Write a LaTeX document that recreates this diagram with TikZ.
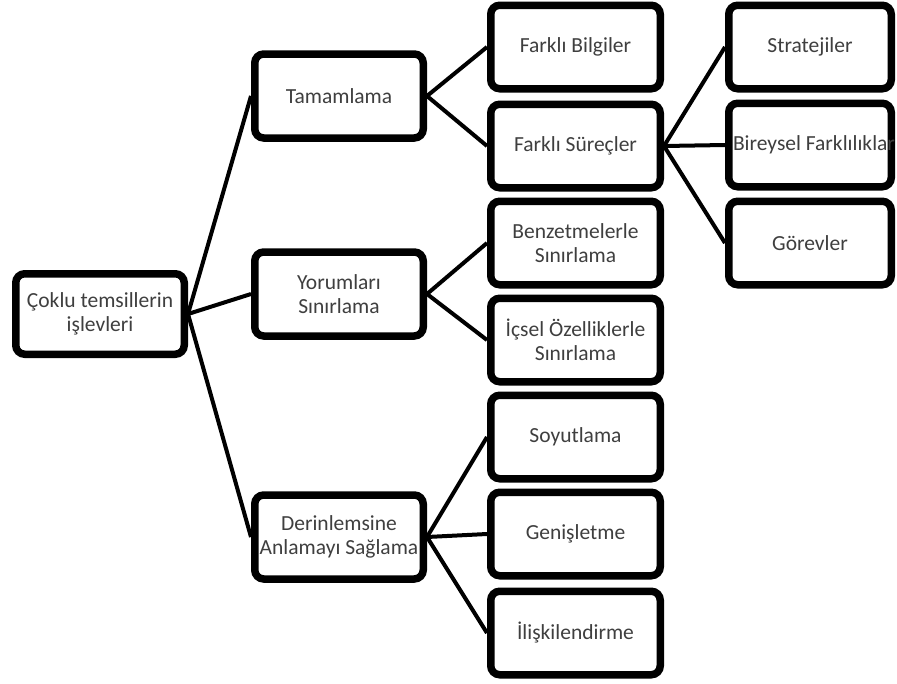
\documentclass[tikz,border=0pt]{standalone}
\usepackage{fontspec}
\setmainfont{Carlito}
\usetikzlibrary{shadows}
\definecolor{boxtext}{HTML}{3F3F3F}
\begin{document}
\begin{tikzpicture} [x=1pt, y=-1pt,
    line width=4pt,
    box/.style={draw, rounded corners=9pt, line width=7.5pt, fill=white,
      drop shadow={shadow xshift=1pt, shadow yshift=-2.5pt, opacity=0.22},
      align=center, text=boxtext, inner sep=0pt,
      font=\fontsize{21.5}{24}\selectfont},
    mid/.style={box, minimum width=168.5pt, minimum height=84pt},
    leaf/.style={box, minimum width=169.5pt, minimum height=83.5pt},
    far/.style={box, minimum width=162.5pt, minimum height=83.5pt}]
  \useasboundingbox (0,0) rectangle (897,683);

  \node[box, minimum width=168.5pt, minimum height=80.5pt] (root) at (100,314) {Çoklu temsillerin\\işlevleri};

  \node[mid] (tam) at (339,96)  {Tamamlama};
  \node[mid] (yor) at (339,294) {Yorumları\\Sınırlama};
  \node[mid] (der) at (339,537) {Derinlemsine\\Anlamayı Sağlama};

  \node[leaf] (bilgi)  at (575.5,47)  {Farklı Bilgiler};
  \node[leaf] (surec)  at (575.5,146) {Farklı Süreçler};
  \node[leaf] (benz)   at (575.5,243) {Benzetmelerle\\Sınırlama};
  \node[leaf] (icsel)  at (575.5,340) {İçsel Özelliklerle\\Sınırlama};
  \node[leaf] (soyut)  at (575.5,437) {Soyutlama};
  \node[leaf] (genis)  at (575.5,534) {Genişletme};
  \node[leaf] (iliski) at (575.5,633) {İlişkilendirme};

  \node[far] (strat) at (810,47)  {Stratejiler};
  \node[far] (birey) at (810,145) {\makebox[0pt]{\hspace*{8pt}Bireysel Farklılıklar}};
  \node[far] (gorev) at (810,243) {Görevler};

  \draw (root.east) -- (tam.west);
  \draw (root.east) -- (yor.west);
  \draw (root.east) -- (der.west);

  \draw (tam.east) -- (bilgi.west);
  \draw (tam.east) -- (surec.west);
  \draw (yor.east) -- (benz.west);
  \draw (yor.east) -- (icsel.west);
  \draw (der.east) -- (soyut.west);
  \draw (der.east) -- (genis.west);
  \draw (der.east) -- (iliski.west);

  \draw (surec.east) -- (strat.west);
  \draw (surec.east) -- (birey.west);
  \draw (surec.east) -- (gorev.west);
\end{tikzpicture}
\end{document}
